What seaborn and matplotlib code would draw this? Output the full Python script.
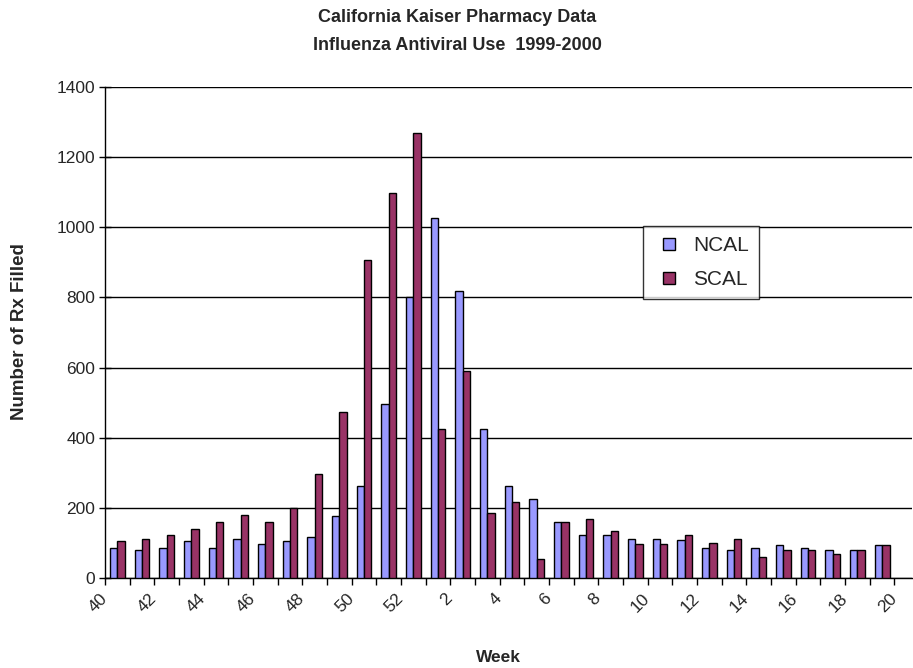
import numpy as np
import pandas as pd
import matplotlib
matplotlib.use("Agg")
import matplotlib.pyplot as plt
from matplotlib.lines import Line2D
import seaborn as sns

# Influenza antiviral prescriptions filled per week, Kaiser California, 1999-2000 season
weeks = [str(w) for w in list(range(40, 53)) + list(range(1, 21))]
ncal = [86, 81, 85, 106, 85, 112, 97, 106, 118, 177, 261, 496, 801,
        1026, 819, 426, 261, 224, 160, 124, 124, 112, 112, 107, 85, 79,
        85, 95, 85, 79, 79, 93, np.nan]
scal = [106, 112, 123, 140, 160, 181, 160, 200, 297, 473, 907, 1099, 1268,
        426, 589, 185, 218, 54, 160, 167, 133, 97, 97, 124, 100, 110,
        60, 79, 79, 69, 79, 93, np.nan]
regions = ["NCAL", "SCAL"]
colors = ["#9999FF", "#993366"]
y_ticks = list(range(0, 1401, 200))

df = pd.DataFrame({
    "Week": weeks * 2,
    "Region": ["NCAL"] * len(weeks) + ["SCAL"] * len(weeks),
    "Rx": ncal + scal,
})

sns.set_theme(style="white")
plt.rcParams["font.family"] = ["Liberation Sans", "DejaVu Sans"]

fig = plt.figure(figsize=(9.13, 6.68), dpi=100)
W, H = 913, 668
left, right, top, bottom = 105, 912, 87, 578
ax = fig.add_axes([left / W, 1 - bottom / H, (right - left) / W, (bottom - top) / H])

sns.barplot(data=df, x="Week", y="Rx", hue="Region", order=weeks,
            hue_order=regions, palette=colors, width=0.6, errorbar=None,
            edgecolor="black", linewidth=1.0, saturation=1, ax=ax, zorder=3)

ax.set_yticks(y_ticks)
ax.set_yticklabels([str(v) for v in y_ticks], fontsize=12.5)
ax.yaxis.grid(True, color="black", linewidth=1.0, zorder=0)
ax.set_axisbelow(True)

# labels on every second week (slanted text ends just left of the week centre),
# tick marks between the weeks
label_pos = np.arange(0, len(weeks), 2) - 0.3
ax.set_xticks(label_pos)
ax.set_xticklabels(weeks[::2], rotation=45, ha="right", va="top",
                   rotation_mode="default", fontsize=12.5)
ax.set_xticks(np.arange(-0.5, len(weeks) - 0.5, 1), minor=True)
ax.tick_params(axis="x", which="major", length=0, pad=9)
ax.tick_params(axis="x", which="minor", length=5, width=1, direction="out",
               color="black", bottom=True)
ax.tick_params(axis="y", length=8, width=1, direction="inout", color="black",
               left=True, pad=3)

group_px = 24.67
ax.set_xlim(-0.5, -0.5 + (right - left) / group_px)
ax.set_ylim(0, 1400)

for side in ("top", "right"):
    ax.spines[side].set_visible(False)
for side in ("left", "bottom"):
    ax.spines[side].set_color("black")
    ax.spines[side].set_linewidth(1.0)

ax.set_xlabel("")
ax.set_ylabel("")

handles = [Line2D([], [], marker="s", linestyle="none", markersize=8.5,
                  markerfacecolor=c, markeredgecolor="black", markeredgewidth=1.0)
           for c in colors]
leg = ax.legend(handles, regions, loc="upper left",
                bbox_to_anchor=(643 / W, 1 - 226 / H),
                bbox_transform=fig.transFigure, frameon=True, fancybox=False,
                edgecolor="black", fontsize=15, handlelength=1.5,
                handletextpad=0.4, borderpad=0.5, labelspacing=0.7,
                borderaxespad=0)
leg.get_frame().set_linewidth(1.0)

title_font = ["Liberation Sans Narrow", "Liberation Sans", "DejaVu Sans"]
fig.text(457 / W, 1 - 18 / H, "California Kaiser Pharmacy Data", ha="center",
         va="center", fontsize=13, fontweight="bold", family=title_font)
fig.text(457 / W, 1 - 45 / H, "Influenza Antiviral Use  1999-2000", ha="center",
         va="center", fontsize=13, fontweight="bold", family=title_font)
fig.text(498 / W, 1 - 657 / H, "Week", ha="center", va="center", fontsize=12.5,
         fontweight="bold", family=title_font)
fig.text(19 / W, 1 - 332 / H, "Number of Rx Filled", ha="center", va="center",
         rotation=90, fontsize=13.5, fontweight="bold", family=title_font)

fig.savefig("out.png", dpi=100, facecolor="white")
